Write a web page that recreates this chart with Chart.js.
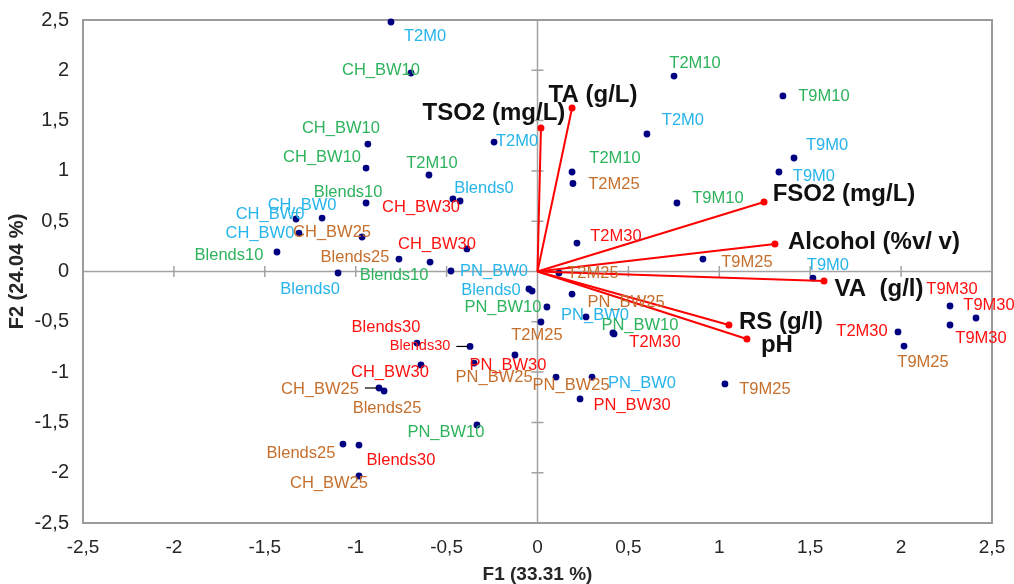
<!DOCTYPE html>
<html>
<head>
<meta charset="utf-8">
<script src="https://cdn.jsdelivr.net/npm/chart.js@4"></script>
<style>
html, body { margin: 0; padding: 0; background: #fff; }
</style>
</head>
<body>
<canvas id="biplot" width="1014" height="584"></canvas>
<script>
// observations (F1, F2 scores)
var obsLabels = ['T2M0', 'CH_BW10', 'CH_BW10', 'CH_BW10', 'T2M10', 'T2M0', 'Blends0', 'CH_BW30', 'Blends10', 'CH_BW0',
    'CH_BW0', 'CH_BW0', 'CH_BW25', 'Blends10', 'Blends25', 'CH_BW30', 'Blends10', 'Blends0', 'PN_BW0', 'Blends0',
    '', 'T2M25', 'PN_BW25', 'PN_BW10', 'T2M25', 'PN_BW0', 'PN_BW10', 'T2M30', 'Blends30', 'PN_BW30',
    'PN_BW25', 'PN_BW25', 'PN_BW0', 'PN_BW30', 'T9M25', 'Blends30', 'CH_BW30', 'CH_BW25', 'Blends25', 'PN_BW10',
    'Blends25', 'Blends30', 'CH_BW25', 'T2M10', 'T9M10', 'T2M0', 'T9M0', 'T9M0', 'T2M10', 'T2M25',
    'T9M10', 'T2M30', 'T9M25', 'T9M0', 'T9M30', 'T9M30', 'T9M30', 'T2M30', 'T9M25'];
var obsX = [-0.806, -0.696, -0.933, -0.943, -0.597, -0.239, -0.465, -0.426, -0.943, -1.185,
    -1.328, -1.312, -0.965, -1.433, -0.762, -0.388, -0.591, -1.097, -0.476, -0.047,
    -0.030, 0.118, 0.190, 0.052, 0.019, 0.267, 0.415, 0.421, -0.371, -0.124,
    -0.349, 0.102, 0.300, 0.234, 1.031, -0.663, -0.641, -0.872, -0.844, -0.333,
    -1.070, -0.982, -0.982, 0.751, 1.350, 0.602, 1.411, 1.328, 0.190, 0.195,
    0.767, 0.217, 0.910, 1.515, 2.269, 2.412, 2.269, 1.983, 2.016];
var obsY = [2.480, 1.973, 1.267, 1.028, 0.959, 1.287, 0.721, 0.701, 0.681, 0.531,
    0.522, 0.382, 0.343, 0.194, 0.124, 0.224, 0.094, -0.015, 0.005, -0.174,
    -0.194, -0.015, -0.224, -0.353, -0.502, -0.452, -0.611, -0.621, -0.745, -0.830,
    -0.910, -1.049, -1.049, -1.267, -1.118, -0.711, -0.929, -1.158, -1.188, -1.526,
    -1.715, -1.725, -2.033, 1.943, 1.745, 1.367, 1.128, 0.989, 0.989, 0.875,
    0.681, 0.283, 0.124, -0.065, -0.343, -0.462, -0.532, -0.601, -0.741];

// variables (correlation vectors)
var varLabels = ['TSO2 (mg/L)', 'TA (g/L)', 'FSO2 (mg/L)', 'Alcohol (%v/ v)', 'VA  (g/l)', 'RS (g/l)', 'pH'];
var varX = [0.019, 0.190, 1.246, 1.306, 1.576, 1.053, 1.152];
var varY = [1.426, 1.625, 0.691, 0.273, -0.094, -0.531, -0.671];

// axes
var axisMin = -2.5;
var axisMax = 2.5;
var axisStep = 0.5;
var xTitle = 'F1 (33.31 %)';
var yTitle = 'F2 (24.04 %)';

// label placement in pixels, relative to the point: [dx, dy, small, leader]
var obsLabelPos = [[34, 14], [-30, -3], [-27, -16], [-44, -11], [3, -12], [23, -1], [31, -11], [-39, 6], [-18, -11], [-20, -13],
    [-26, -5], [-39, 0], [-30, -5], [-48, 3], [-44, -2], [-30, -5], [-36, 13], [-28, 16], [43, 0], [-38, 1],
    [0, 0], [34, 0], [54, 8], [-44, 0], [-4, 13], [9, -2], [27, -8], [41, 8], [-50, 0, true, true], [-7, 10],
    [20, 14], [15, 8], [50, 6], [52, 6], [40, 5], [-31, -16], [-31, 7], [-59, 1, false, true], [3, 17], [-31, 7],
    [-42, 9], [42, 15], [-30, 7], [21, -13], [41, 1], [36, -14], [33, -13], [35, 4], [43, -14], [41, 1],
    [41, -5], [39, -7], [44, 3], [15, -13], [2, -17], [13, -13], [31, 13], [-36, -1], [19, 16]];
var varLabelPos = [[-47, -15], [21, -13], [80, -8], [99, -2], [55, 8], [52, -3], [30, 6]];

var fontFamily = "'Liberation Sans', Arial, sans-serif";

// colour from the trailing number of the sample name
function labelColor(name) {
    var m = name.match(/(\d+)$/);
    var n = m ? m[1] : '';
    if (n === '10') return '#2db35c';
    if (n === '25') return '#c56f2d';
    if (n === '30') return '#ff1010';
    return '#27b4ea';
}

function commaTick(v) {
    return String(Math.round(v * 10) / 10).replace('.', ',');
}

var obsPoints = [];
for (let i = 0; i < obsX.length; i++) {
    obsPoints.push({x: obsX[i], y: obsY[i]});
}

var datasets = [];
for (let i = 0; i < varX.length; i++) {
    datasets.push({
        data: [{x: 0, y: 0}, {x: varX[i], y: varY[i]}],
        showLine: true,
        borderColor: '#ff0000',
        borderWidth: 2,
        pointRadius: [0, 3.5],
        pointBackgroundColor: '#ff0000',
        pointBorderWidth: 0,
        clip: false
    });
}
datasets.push({
    data: obsPoints,
    pointRadius: 3.4,
    pointBackgroundColor: '#000080',
    pointBorderWidth: 0,
    clip: false
});

var biplotDecor = {
    id: 'biplotDecor',
    beforeDatasetsDraw: function (chart) {
        var ctx = chart.ctx;
        var a = chart.chartArea;
        var xs = chart.scales.x, ys = chart.scales.y;
        var x0 = xs.getPixelForValue(0), y0 = ys.getPixelForValue(0);
        ctx.save();
        ctx.strokeStyle = '#a3a3a3';
        ctx.lineWidth = 1.5;
        ctx.beginPath();
        ctx.moveTo(a.left, y0); ctx.lineTo(a.right, y0);
        ctx.moveTo(x0, a.top); ctx.lineTo(x0, a.bottom);
        // small ticks across the zero lines
        for (let v = axisMin + axisStep; v < axisMax - 1e-9; v += axisStep) {
            if (Math.abs(v) < 1e-9) continue;
            var px = xs.getPixelForValue(v), py = ys.getPixelForValue(v);
            ctx.moveTo(px, y0 - 5.5); ctx.lineTo(px, y0 + 5.5);
            ctx.moveTo(x0 - 6, py); ctx.lineTo(x0 + 6, py);
        }
        ctx.stroke();
        ctx.lineWidth = 2;
        ctx.strokeStyle = '#9b9b9b';
        ctx.strokeRect(a.left, a.top, a.right - a.left, a.bottom - a.top);
        ctx.restore();
    },
    afterDatasetsDraw: function (chart) {
        var ctx = chart.ctx;
        var xs = chart.scales.x, ys = chart.scales.y;
        ctx.save();
        ctx.textAlign = 'center';
        ctx.textBaseline = 'middle';
        for (let i = 0; i < obsLabels.length; i++) {
            if (!obsLabels[i]) continue;
            var pos = obsLabelPos[i];
            var px = xs.getPixelForValue(obsX[i]), py = ys.getPixelForValue(obsY[i]);
            ctx.font = (pos[2] ? '14.5px ' : '16.5px ') + fontFamily;
            ctx.fillStyle = labelColor(obsLabels[i]);
            ctx.fillText(obsLabels[i], px + pos[0], py + pos[1]);
            if (pos[3]) {
                var w = ctx.measureText(obsLabels[i]).width;
                ctx.strokeStyle = '#000';
                ctx.lineWidth = 1.2;
                ctx.beginPath();
                ctx.moveTo(px + pos[0] + w / 2 + 6, py);
                ctx.lineTo(px - 2, py);
                ctx.stroke();
            }
        }
        ctx.font = 'bold 24px ' + fontFamily;
        ctx.fillStyle = '#111';
        for (let i = 0; i < varLabels.length; i++) {
            var vx = xs.getPixelForValue(varX[i]), vy = ys.getPixelForValue(varY[i]);
            ctx.fillText(varLabels[i], vx + varLabelPos[i][0], vy + varLabelPos[i][1]);
        }
        ctx.restore();
    }
};

var chartElement = document.getElementById('biplot').getContext('2d');
var chartObject = new Chart(chartElement, {
    type: 'scatter',
    data: {datasets: datasets},
    options: {
        responsive: false,
        animation: false,
        layout: {padding: {left: 0, top: 20, right: 22, bottom: 0}},
        plugins: {legend: {display: false}, tooltip: {enabled: false}},
        scales: {
            x: {
                min: axisMin, max: axisMax,
                grid: {display: false, drawTicks: false},
                border: {display: false},
                ticks: {stepSize: axisStep, callback: commaTick, color: '#262626', padding: 13,
                    font: {family: fontFamily, size: 19}, maxRotation: 0},
                title: {display: true, text: xTitle, color: '#262626', padding: 0,
                    font: {family: fontFamily, size: 19, weight: 'bold', lineHeight: 1}},
                afterFit: function (scale) {
                    scale.height = 61;
                    scale.paddingLeft = 0;
                    scale.paddingRight = 0;
                }
            },
            y: {
                min: axisMin, max: axisMax,
                grid: {display: false, drawTicks: false},
                border: {display: false},
                ticks: {stepSize: axisStep, callback: commaTick, color: '#262626', padding: 14,
                    font: {family: fontFamily, size: 20}},
                title: {display: true, text: yTitle, color: '#262626', padding: {top: 5, bottom: 0},
                    font: {family: fontFamily, size: 20, weight: 'bold'}},
                afterFit: function (scale) {
                    scale.width = 83;
                    scale.paddingTop = 0;
                    scale.paddingBottom = 0;
                }
            }
        }
    },
    plugins: [biplotDecor]
});
</script>
</body>
</html>
